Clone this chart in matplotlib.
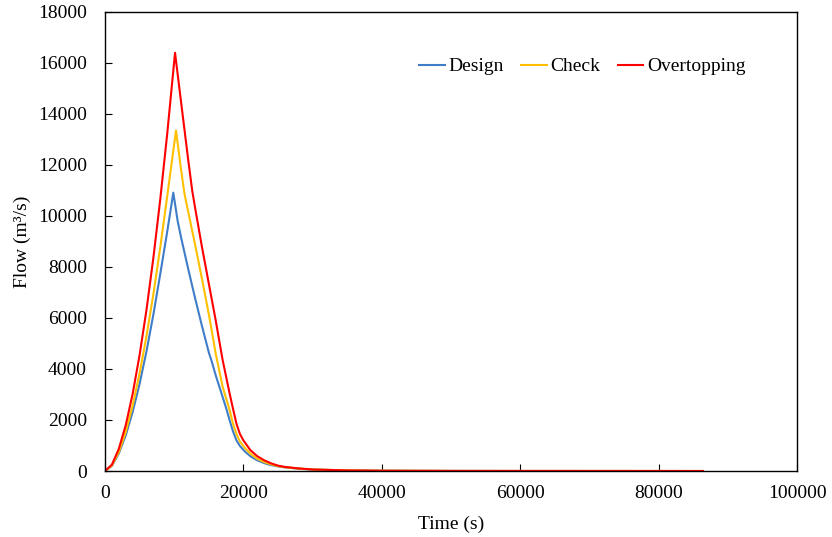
import matplotlib
matplotlib.use("Agg")
import matplotlib.pyplot as plt

plt.rcParams['font.family'] = ['Liberation Serif', 'DejaVu Serif']

# Design flood hydrograph
design_t = [0, 1000, 2000, 3000, 4000, 5000, 6000, 7000, 8000, 9000, 9870,
            10500, 11000, 11500, 12000, 13000, 14000, 15000, 15420, 16000, 17000, 17590,
            18000, 18500, 19000, 19500, 20230, 21000, 22000, 23000, 24000, 25000, 26000,
            28000, 30000, 35000, 40000, 50000, 60000, 86400]
design_q = [0, 200, 690, 1400, 2320, 3420, 4700, 6150, 7750, 9400, 10914,
            9800, 9150, 8550, 7950, 6800, 5700, 4650, 4300, 3750, 2900, 2390,
            2000, 1550, 1200, 980, 760, 580, 420, 310, 230, 180, 140,
            90, 55, 25, 12, 4, 2, 0]

# Check flood hydrograph
check_t = [0, 1000, 2000, 3000, 4000, 5000, 6000, 7000, 8000, 9000, 10260,
           11000, 11500, 12000, 12500, 13000, 14000, 15000, 16000, 17000, 18000,
           18500, 19000, 19500, 20230, 21000, 22000, 23000, 24000, 25000, 26000,
           28000, 30000, 35000, 40000, 50000, 60000, 86400]
check_q = [0, 215, 740, 1530, 2570, 3830, 5300, 6950, 8800, 10800, 13350,
           11800, 10850, 10200, 9550, 8900, 7550, 6150, 4600, 3300, 2400,
           1850, 1450, 1150, 900, 680, 480, 350, 260, 190, 150,
           95, 60, 25, 12, 4, 2, 0]

# Overtopping flood hydrograph
over_t = [0, 1000, 2000, 3000, 4000, 5000, 6000, 7000, 8000, 9000, 10120,
          11000, 12000, 12600, 13000, 14000, 15000, 16000, 17000, 18000, 18540,
          19000, 19500, 20000, 21000, 22000, 23000, 24000, 25000, 26000, 28000,
          30000, 35000, 40000, 50000, 60000, 86400]
over_q = [0, 250, 870, 1800, 3030, 4550, 6330, 8380, 10690, 13250, 16400,
          14450, 12250, 11000, 10350, 8800, 7350, 5900, 4350, 3050, 2390,
          1850, 1450, 1200, 820, 580, 420, 300, 210, 160, 100,
          60, 22, 10, 4, 2, 0]

series_names = ["Design", "Check", "Overtopping"]
colors = ["#3F7DC8", "#FFC000", "#FF0000"]

x_ticks = [0, 20000, 40000, 60000, 80000, 100000]
y_ticks = [0, 2000, 4000, 6000, 8000, 10000, 12000, 14000, 16000, 18000]

fig = plt.figure(figsize=(8.32, 5.37), dpi=100)
ax = fig.add_axes([0.1262, 0.1229, 0.8318, 0.8548])

for (t, q), name, c in zip([(design_t, design_q), (check_t, check_q), (over_t, over_q)],
                           series_names, colors):
    ax.plot(t, q, color=c, lw=1.5, label=name)

ax.set_xlim(0, 100000)
ax.set_ylim(0, 18000)
ax.set_xticks(x_ticks)
ax.set_yticks(y_ticks)
ax.set_xticklabels([str(v) for v in x_ticks])
ax.set_yticklabels([str(v) for v in y_ticks])
ax.tick_params(direction='in', length=5, width=0.8, labelsize=14, colors='black')
ax.tick_params(axis='x', pad=10)
ax.tick_params(axis='y', pad=13)
for s in ax.spines.values():
    s.set_color('black')
    s.set_linewidth(1.0)

ax.set_xlabel("Time (s)", fontsize=14, labelpad=10)
ax.set_ylabel("Flow (m³/s)", fontsize=14, labelpad=5)

ax.legend(loc='center', bbox_to_anchor=(0.69, 0.881), ncol=3, frameon=False,
          fontsize=14, handlelength=1.3, handletextpad=0.2, columnspacing=0.9)

fig.savefig("out.png", dpi=100)
